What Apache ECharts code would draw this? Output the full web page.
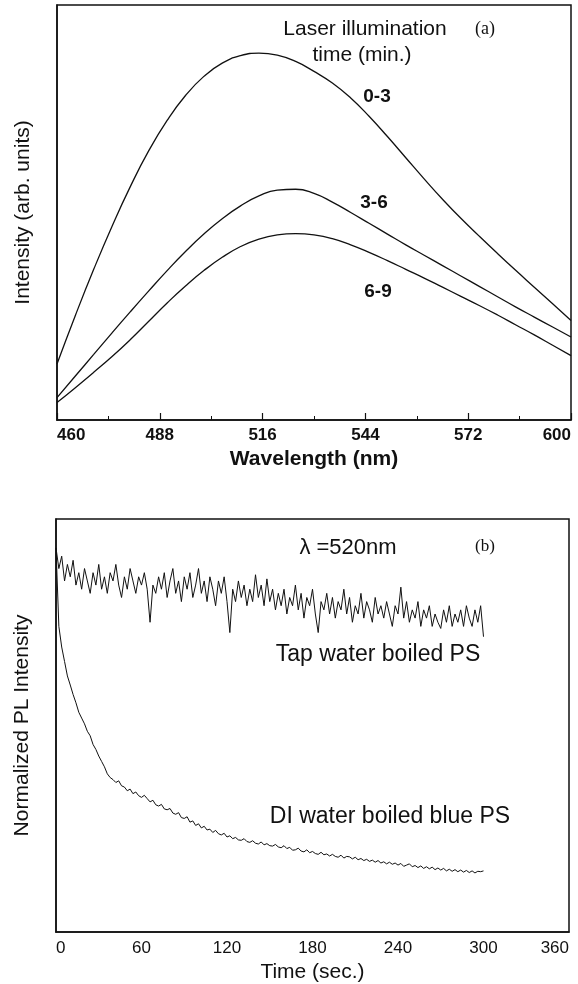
<!DOCTYPE html>
<html>
<head>
<meta charset="utf-8">
<script src="https://cdn.jsdelivr.net/npm/echarts@6/dist/echarts.min.js"></script>
<style>
html,body{margin:0;padding:0;background:#fff;}
#chart{width:578px;height:984px;}
</style>
</head>
<body>
<div id="chart"></div>
<script>
// ---- Panel (a): PL spectra ----
const wavelengths = [460,465,470,475,480,485,490,495,500,505,510,515,520,525,530,535,540,545,550,555,560,565,570,575,580,585,590,595,600];
const pl_0_3 = [13.5,25.2,36.3,46.7,56.3,64.9,72.2,78.2,82.8,86.0,87.8,88.4,87.9,86.4,84.0,81.2,77.6,73.2,68.3,63.2,58.1,53.2,48.6,44.3,40.1,36.0,32.0,28.0,24.0];
const pl_3_6 = [5.4,10.6,15.8,21.0,26.1,31.1,36.0,40.6,44.8,48.5,51.6,54.0,55.4,55.6,54.6,52.5,50.0,47.4,44.8,42.2,39.7,37.2,34.7,32.2,29.7,27.2,24.8,22.4,20.0];
const pl_6_9 = [4.2,7.8,11.5,15.3,19.4,23.8,28.2,32.3,36.0,39.2,41.8,43.6,44.6,44.9,44.6,43.7,42.2,40.4,38.4,36.3,34.2,32.0,29.8,27.6,25.3,22.9,20.5,18.0,15.5];

// ---- Panel (b): PL intensity vs time (0..300 s, evenly sampled) ----
const timeStart = 0, timeEnd = 300;
const tapWater = [
93,88,91,85,89,86,90,84,87,83,
88,85,82,87,84,89,83,86,82,87,
85,89,84,81,86,83,88,85,82,86,
84,87,83,75,84,82,86,83,87,81,
85,88,82,85,80,86,83,87,81,84,
88,82,85,80,86,83,79,85,82,86,
80,72.5,83,80,85,81,84,79,83,80,
86.5,81,84,79,85.5,80,83,78,82,79,
83,77,81,79,84,78,82,76,81,79,
83,77,72.5,80,78,82,77,81,76,80,
78,83,77,81,75,79,77,82,76,80,
78,75,81,77,79,76,80,77,74,79,
77,83.5,76,80,75,78,76,80,74,78,
76,79,74,77,75,73.5,78,75,79,74,
77,75,78,74,79,76,74,78,75,79,
71.5];
const diWater = [
93,74,69,65.5,62,59.8,57.5,55.5,53.2,51.8,
50.4,48.6,47.5,45.4,44.2,42.6,41.3,40.0,38.3,37.4,
36.9,36.2,36.6,35.4,35.1,34.2,34.6,33.5,33.9,33.0,
32.6,33.1,32.3,31.5,31.9,30.8,30.5,30.9,29.8,29.6,
29.9,28.8,28.5,28.9,27.7,27.5,27.9,26.6,26.9,25.8,
26.2,25.2,25.6,24.7,24.9,24.1,24.6,23.8,23.5,23.9,
23.0,23.3,22.6,22.9,22.3,22.2,22.6,21.9,21.7,22.1,
21.5,21.3,21.8,21.1,21.4,20.9,20.8,21.2,20.6,20.4,
20.9,20.2,20.5,19.8,19.9,20.3,19.6,19.4,19.9,19.2,
19.5,19.0,18.8,19.3,18.7,18.9,18.4,18.8,18.3,18.1,
18.6,17.9,18.3,18.2,17.7,18.1,17.5,17.8,17.3,17.6,
17.1,17.4,16.9,17.3,16.7,17.0,16.5,16.9,16.4,16.7,
16.2,16.6,15.9,16.2,16.5,15.8,16.1,15.6,16.0,15.4,
15.8,15.3,15.7,15.1,15.5,15.0,15.4,14.8,15.2,14.7,
15.1,14.6,15.0,14.5,14.9,14.4,14.8,14.3,14.7,14.6,
14.8];

function pairs(xs, ys){ return ys.map((v,i)=>[xs[i], v]); }
function timed(ys){ const n = ys.length; return ys.map((v,i)=>[timeStart + (timeEnd-timeStart)*i/(n-1), v]); }

const SANS = '"Liberation Sans", Arial, Helvetica, sans-serif';
const SERIF = '"Liberation Serif", "Times New Roman", serif';
const INK = '#111';

const chart = echarts.init(document.getElementById('chart'), null, {renderer:'canvas'});

const lineSeries = (data, xi, smooth, w) => ({
  type:'line', data, xAxisIndex:xi, yAxisIndex:xi, smooth, showSymbol:false, symbol:'none',
  lineStyle:{color:INK, width:w}, animation:false, silent:true
});

const txt = (text, x, y, size, weight, family) => ({
  type:'text', x, y, style:{text, fill:INK, font: (weight||'normal') + ' ' + size + 'px ' + (family||SANS), textAlign:'center', textVerticalAlign:'middle'}
});

chart.setOption({
  animation:false,
  backgroundColor:'#fff',
  grid:[
    {left:57, right:7, top:5, height:415, show:true, borderColor:INK, borderWidth:1.5, backgroundColor:'transparent'},
    {left:56, right:9, top:519, height:413, show:true, borderColor:INK, borderWidth:1.5, backgroundColor:'transparent'}
  ],
  xAxis:[
    {type:'value', gridIndex:0, min:460, max:600, interval:28,
     axisLine:{show:true, lineStyle:{color:INK, width:1.5}},
     axisTick:{show:true, inside:true, length:7, lineStyle:{color:INK, width:1.2}},
     minorTick:{show:true, splitNumber:2, length:4, lineStyle:{color:INK, width:1}},
     splitLine:{show:false}, minorSplitLine:{show:false},
     axisLabel:{color:INK, fontFamily:SANS, fontWeight:'bold', fontSize:17, margin:7, alignMinLabel:'left', alignMaxLabel:'right'},
     name:'Wavelength (nm)', nameLocation:'middle', nameGap:29,
     nameTextStyle:{color:INK, fontFamily:SANS, fontWeight:'bold', fontSize:21}},
    {type:'value', gridIndex:1, min:0, max:360, interval:60,
     axisLine:{show:true, lineStyle:{color:INK, width:1.5}},
     axisTick:{show:false},
     splitLine:{show:false},
     axisLabel:{color:INK, fontFamily:SANS, fontSize:17, margin:8, alignMinLabel:'left', alignMaxLabel:'right'},
     name:'Time (sec.)', nameLocation:'middle', nameGap:30,
     nameTextStyle:{color:INK, fontFamily:SANS, fontSize:21}}
  ],
  yAxis:[
    {type:'value', gridIndex:0, min:0, max:100,
     axisLine:{show:true, lineStyle:{color:INK, width:1.5}},
     axisTick:{show:false}, axisLabel:{show:false}, splitLine:{show:false},
     name:'Intensity (arb. units)', nameLocation:'middle', nameGap:23,
     nameTextStyle:{color:INK, fontFamily:SANS, fontSize:21}},
    {type:'value', gridIndex:1, min:0, max:100,
     axisLine:{show:true, lineStyle:{color:INK, width:1.5}},
     axisTick:{show:false}, axisLabel:{show:false}, splitLine:{show:false},
     name:'Normalized PL Intensity', nameLocation:'middle', nameGap:23,
     nameTextStyle:{color:INK, fontFamily:SANS, fontSize:21}}
  ],
  series:[
    lineSeries(pairs(wavelengths, pl_0_3), 0, true, 1.3),
    lineSeries(pairs(wavelengths, pl_3_6), 0, true, 1.3),
    lineSeries(pairs(wavelengths, pl_6_9), 0, true, 1.3),
    lineSeries(timed(tapWater), 1, false, 1),
    lineSeries(timed(diWater), 1, false, 1)
  ],
  graphic:[
    txt('Laser illumination', 365, 29, 21),
    txt('time (min.)', 362, 55, 21),
    txt('(a)', 485, 29, 18, 'normal', SERIF),
    txt('0-3', 377, 97, 19, 'bold'),
    txt('3-6', 374, 203, 19, 'bold'),
    txt('6-9', 378, 292, 19, 'bold'),
    txt('\u03bb =520nm', 348, 548, 22),
    txt('(b)', 485, 547, 17, 'normal', SERIF),
    txt('Tap water boiled PS', 378, 655, 23),
    txt('DI water boiled blue PS', 390, 817, 23)
  ]
});
</script>
</body>
</html>
